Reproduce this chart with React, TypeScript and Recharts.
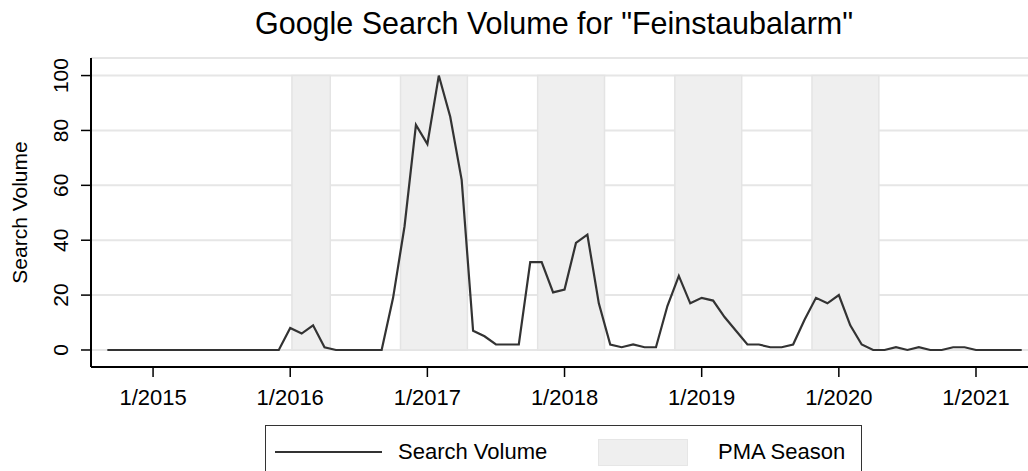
import React from 'react';
import { LineChart, Line, XAxis, YAxis, CartesianGrid, ReferenceArea } from 'recharts';

// monthly Google Trends index, Sep 2014 (month 0) .. May 2021 (month 80)
const volume = [
  0, 0, 0, 0, 0, 0, 0, 0, 0, 0, 0, 0, 0, 0, 0, 0,
  8, 6, 9, 1, 0, 0, 0, 0, 0,
  19, 45, 82, 75, 100, 85, 62, 7, 5, 2, 2, 2,
  32, 32, 21, 22, 39, 42, 17, 2, 1, 2, 1, 1,
  16, 27, 17, 19, 18, 12, 7, 2, 2, 1, 1, 2,
  11, 19, 17, 20, 9, 2, 0, 0, 1, 0, 1, 0,
  0, 1, 1, 0, 0, 0, 0, 0,
];

const yearTicks = [4, 16, 28, 40, 52, 64, 76];
const yearLabels = ['1/2015', '1/2016', '1/2017', '1/2018', '1/2019', '1/2020', '1/2021'];
const valueTicks = [0, 20, 40, 60, 80, 100];

// PMA (Feinstaubalarm) seasons, in months since Sep 2014
const seasonStarts = [16.15, 25.65, 37.65, 49.65, 61.65];
const seasonEnds = [19.5, 31.5, 43.5, 55.5, 67.5];

const data = volume.map((v, i) => ({ month: i, volume: v }));

const FONT = '"Liberation Sans", Arial, sans-serif';
const X_DOMAIN: [number, number] = [-1.43, 80.55];
const Y_DOMAIN: [number, number] = [-6.2, 106.4];

const YTick = (props: any) => {
  const { y, payload } = props;
  return (
    <text x={61} y={y} transform={`rotate(-90, 61, ${y})`} textAnchor="middle"
      dominantBaseline="central" fontFamily={FONT} fontSize={21} fill="#000">
      {payload.value}
    </text>
  );
};

const XTick = (props: any) => {
  const { x, payload } = props;
  const label = yearLabels[yearTicks.indexOf(payload.value)] ?? '';
  return (
    <text x={x} y={397} textAnchor="middle" dominantBaseline="central"
      fontFamily={FONT} fontSize={22} fill="#000">
      {label}
    </text>
  );
};

export default function App() {
  return (
    <div style={{ position: 'absolute', left: 0, top: 0, width: 1028, height: 471, overflow: 'hidden', background: '#fff' }}>
      <div style={{ position: 'absolute', left: 0, top: 8, width: 1108, textAlign: 'center', fontFamily: FONT, fontSize: 30.5, lineHeight: '30px', color: '#000' }}>
        Google Search Volume for "Feinstaubalarm"
      </div>
      <LineChart width={1028} height={471} data={data} margin={{ top: 58, right: 0, bottom: 0, left: 0 }}>
        <CartesianGrid vertical={false} stroke="#e6e6e6" strokeWidth={2} />
        {seasonStarts.map((s, i) => (
          <ReferenceArea key={i} x1={s} x2={seasonEnds[i]} y1={0} y2={100}
            fill="#efefef" fillOpacity={1} stroke="#e4e4e4" strokeWidth={1.5} ifOverflow="hidden" />
        ))}
        <XAxis dataKey="month" type="number" domain={X_DOMAIN} ticks={yearTicks} allowDataOverflow
          height={104} tickSize={10} tick={<XTick />}
          axisLine={{ stroke: '#000', strokeWidth: 2 }} tickLine={{ stroke: '#000', strokeWidth: 1.5 }} />
        <XAxis xAxisId="top" orientation="top" type="number" domain={X_DOMAIN} allowDataOverflow
          height={0} tick={false} tickLine={false} axisLine={{ stroke: '#000', strokeWidth: 2 }} />
        <YAxis type="number" domain={Y_DOMAIN} ticks={valueTicks} allowDataOverflow width={91}
          tickSize={10} tick={<YTick />}
          axisLine={{ stroke: '#000', strokeWidth: 2 }} tickLine={{ stroke: '#000', strokeWidth: 1.5 }}
          label={{ value: 'Search Volume', angle: -90, position: 'insideLeft', offset: 0, dx: 20,
            style: { fontFamily: FONT, fontSize: 21, fill: '#000', textAnchor: 'middle' } }} />
        <Line type="linear" dataKey="volume" stroke="#333" strokeWidth={2.2} dot={false} isAnimationActive={false} />
      </LineChart>
      <div style={{ position: 'absolute', left: 265, top: 425, width: 597, height: 60, border: '1.5px solid #333', boxSizing: 'border-box', fontFamily: FONT, fontSize: 22, color: '#000' }}>
        <div style={{ position: 'absolute', left: 9, top: 25, width: 107, height: 2, background: '#333' }} />
        <div style={{ position: 'absolute', left: 132, top: 13 }}>Search Volume</div>
        <div style={{ position: 'absolute', left: 332, top: 13, width: 90, height: 27, background: '#efefef', border: '1px solid #e6e6e6', boxSizing: 'border-box' }} />
        <div style={{ position: 'absolute', left: 452, top: 13 }}>PMA Season</div>
      </div>
    </div>
  );
}
